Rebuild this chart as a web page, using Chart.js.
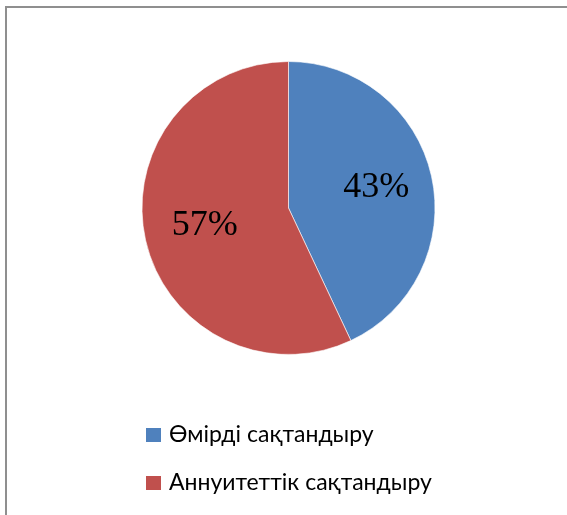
<!DOCTYPE html>
<html>
<head>
<meta charset="utf-8">
<script src="https://cdn.jsdelivr.net/npm/chart.js@4/dist/chart.umd.min.js"></script>
<style>
  html, body { margin: 0; padding: 0; background: #fff; }
  body { width: 567px; height: 515px; position: relative; overflow: hidden; }
  #frame { position: absolute; left: 5px; top: 6px; width: 600px; height: 560px; border: 2px solid #8f8f8f; box-sizing: border-box; }
  #wrap { position: absolute; left: 0; top: 0; width: 567px; height: 515px; }
</style>
</head>
<body>
<div id="frame"></div>
<div id="wrap"><canvas id="c" width="567" height="515"></canvas></div>
<script>
const categories = ["Өмірді сақтандыру", "Аннуитеттік сақтандыру"];
const values = [43, 57];
const colors = ["#4F81BD", "#C0504D"];

const labelPlugin = {
  id: 'sliceLabels',
  afterDatasetsDraw(chart) {
    const ctx = chart.ctx;
    const meta = chart.getDatasetMeta(0);
    const total = values.reduce((a, b) => a + b, 0);
    ctx.save();
    ctx.font = '36px "Liberation Serif", "Times New Roman", serif';
    ctx.fillStyle = '#000';
    ctx.textAlign = 'center';
    ctx.textBaseline = 'middle';
    meta.data.forEach((arc, i) => {
      const p = arc.getProps(['x', 'y', 'startAngle', 'endAngle', 'outerRadius'], true);
      const mid = (p.startAngle + p.endAngle) / 2;
      const r = p.outerRadius * 0.6;
      const x = p.x + Math.cos(mid) * r + 2;
      const y = p.y + Math.sin(mid) * r - 1.5;
      ctx.fillText(Math.round(values[i] / total * 100) + '%', x, y);
    });
    ctx.restore();
  }
};

const legendPlugin = {
  id: 'leftLegend',
  afterDraw(chart) {
    const ctx = chart.ctx;
    const ds = chart.data.datasets[0];
    ctx.save();
    ctx.font = '23px Lato, "Open Sans", sans-serif';
    ctx.textBaseline = 'middle';
    ctx.textAlign = 'left';
    chart.data.labels.forEach((lab, i) => {
      const cy = 435 + i * 48;
      ctx.fillStyle = ds.backgroundColor[i];
      ctx.fillRect(146, cy - 7, 15, 14);
      ctx.fillStyle = '#000';
      ctx.fillText(lab, 169, cy);
    });
    ctx.restore();
  }
};

new Chart(document.getElementById('c'), {
  type: 'pie',
  data: {
    labels: categories,
    datasets: [{
      data: values,
      backgroundColor: colors,
      borderColor: 'rgba(255,255,255,0.6)',
      borderWidth: 1
    }]
  },
  options: {
    responsive: false,
    animation: false,
    layout: { padding: { top: 61, bottom: 160, left: 141, right: 131 } },
    plugins: { legend: { display: false }, tooltip: { enabled: false } }
  },
  plugins: [labelPlugin, legendPlugin]
});
</script>
</body>
</html>
